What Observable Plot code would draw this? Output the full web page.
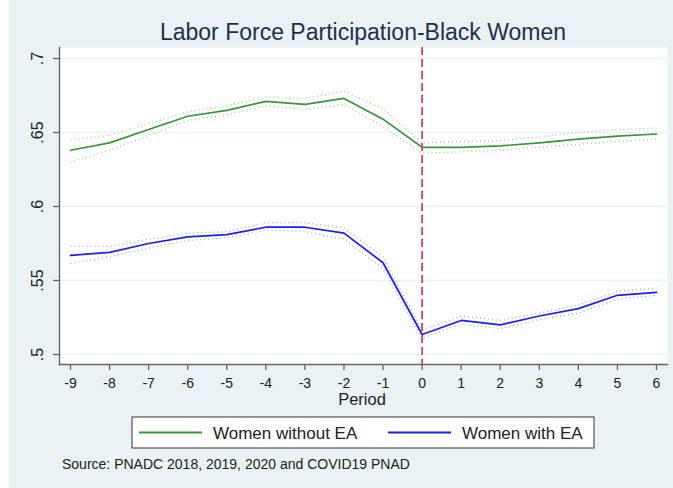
<!DOCTYPE html>
<html>
<head>
<meta charset="utf-8">
<script src="https://cdn.jsdelivr.net/npm/d3@7"></script>
<script src="https://cdn.jsdelivr.net/npm/@observablehq/plot@0.6"></script>
<style>
  html, body { margin: 0; padding: 0; background: #ffffff; }
  #chart svg { display: block; }
</style>
</head>
<body>
<div id="chart"></div>
<script>
// Labor force participation of Black women, by period relative to event
const periods = [-9, -8, -7, -6, -5, -4, -3, -2, -1, 0, 1, 2, 3, 4, 5, 6];

const withoutEA    = [0.638, 0.643, 0.652, 0.661, 0.665, 0.671, 0.669, 0.673, 0.659, 0.640, 0.640, 0.641, 0.643, 0.6455, 0.6475, 0.649];
const withoutEA_hi = [0.645, 0.648, 0.656, 0.664, 0.668, 0.674, 0.673, 0.678, 0.666, 0.643, 0.644, 0.6445, 0.647, 0.650, 0.652, 0.653];
const withoutEA_lo = [0.630, 0.638, 0.648, 0.658, 0.662, 0.668, 0.6655, 0.669, 0.654, 0.636, 0.637, 0.638, 0.640, 0.642, 0.644, 0.6455];

const withEA    = [0.567, 0.569, 0.575, 0.5795, 0.581, 0.586, 0.586, 0.582, 0.562, 0.5135, 0.523, 0.520, 0.526, 0.531, 0.540, 0.542];
const withEA_hi = [0.573, 0.573, 0.578, 0.582, 0.583, 0.589, 0.589, 0.5855, 0.566, 0.5165, 0.526, 0.523, 0.528, 0.5335, 0.5425, 0.545];
const withEA_lo = [0.5615, 0.566, 0.572, 0.577, 0.579, 0.584, 0.583, 0.578, 0.558, 0.511, 0.5205, 0.5175, 0.5235, 0.528, 0.5375, 0.540];

const yTicks = [0.5, 0.55, 0.6, 0.65, 0.7];
const yTickLabels = [".5", ".55", ".6", ".65", ".7"];

const seriesNames = ["Women without EA", "Women with EA"];
const titleText = "Labor Force Participation-Black Women";
const xTitle = "Period";
const sourceText = "Source: PNADC 2018, 2019, 2020 and COVID19 PNAD";

const green = "#3a943a", greenCI = "#94cf94";
const blue = "#1c1cff", blueCI = "#a0a0ff";
const eventColor = "#d2466f";
const axisColor = "#666666";
const bg = "#eaf2f3";

const rows = (vals) => periods.map((p, i) => ({period: p, value: vals[i]}));
const ciStyle = {strokeWidth: 1.3, strokeDasharray: "1,3", strokeLinecap: "butt"};

const W = 673, H = 488;
const chart = Plot.plot({
  width: W,
  height: H,
  marginLeft: 59,
  marginRight: 6,
  marginTop: 47,
  marginBottom: 124,
  style: {fontFamily: "'Liberation Sans', Arial, sans-serif", background: "transparent", color: "#222"},
  x: {domain: [-9, 6], range: [70, 656]},
  y: {domain: [0.5, 0.7], range: [354, 58]},
  marks: [
    Plot.frame({fill: "white", stroke: null}),
    Plot.gridY(yTicks, {stroke: bg, strokeOpacity: 1, strokeWidth: 1.6}),
    // confidence bands (dotted)
    Plot.line(rows(withoutEA_hi), {x: "period", y: "value", stroke: greenCI, ...ciStyle}),
    Plot.line(rows(withoutEA_lo), {x: "period", y: "value", stroke: greenCI, ...ciStyle}),
    Plot.line(rows(withEA_hi), {x: "period", y: "value", stroke: blueCI, ...ciStyle}),
    Plot.line(rows(withEA_lo), {x: "period", y: "value", stroke: blueCI, ...ciStyle}),
    // point estimates
    Plot.line(rows(withoutEA), {x: "period", y: "value", stroke: green, strokeWidth: 1.7}),
    Plot.line(rows(withEA), {x: "period", y: "value", stroke: blue, strokeWidth: 1.7}),
    // event marker at period 0
    Plot.ruleX([0], {stroke: eventColor, strokeWidth: 1.8, strokeDasharray: "8,4"}),
    // axes
    Plot.frame({anchor: "left", stroke: axisColor, strokeWidth: 1.4}),
    Plot.frame({anchor: "bottom", stroke: axisColor, strokeWidth: 1.4}),
    Plot.axisY(yTicks, {tickSize: 6, fill: "none", stroke: axisColor, strokeWidth: 1.3, label: null}),
    Plot.text(yTicks, {y: (d) => d, text: (d, i) => yTickLabels[i], frameAnchor: "left", dx: -22, rotate: -90,
      textAnchor: "middle", lineAnchor: "middle", fontSize: 16, fill: "#222"}),
    Plot.axisX(periods, {tickSize: 6, tickPadding: 8, stroke: axisColor, strokeWidth: 1.3, fill: "#222",
      fontSize: 14, tickFormat: (d) => String(d), label: null})
  ]
});

const svg = d3.select(chart);
// graph region background
svg.insert("rect", ":first-child")
  .attr("x", 9).attr("y", 0).attr("width", W - 9).attr("height", H)
  .attr("fill", bg);

const font = "'Liberation Sans', Arial, sans-serif";

svg.append("text")
  .attr("x", 363).attr("y", 40)
  .attr("text-anchor", "middle")
  .attr("font-family", font).attr("font-size", 23)
  .attr("fill", "#22304f")
  .text(titleText);

svg.append("text")
  .attr("x", 362).attr("y", 405)
  .attr("text-anchor", "middle")
  .attr("font-family", font).attr("font-size", 16.5)
  .attr("fill", "#222")
  .text(xTitle);

// legend
const leg = svg.append("g");
leg.append("rect")
  .attr("x", 132).attr("y", 417).attr("width", 462).attr("height", 31)
  .attr("fill", "white").attr("stroke", "#333").attr("stroke-width", 1);
const legendItems = [
  {name: seriesNames[0], color: green, x0: 139, x1: 202, tx: 213},
  {name: seriesNames[1], color: blue, x0: 388, x1: 451, tx: 462}
];
legendItems.forEach((d) => {
  leg.append("line")
    .attr("x1", d.x0).attr("x2", d.x1).attr("y1", 432.5).attr("y2", 432.5)
    .attr("stroke", d.color).attr("stroke-width", 1.8);
  leg.append("text")
    .attr("x", d.tx).attr("y", 439)
    .attr("text-anchor", "start")
    .attr("font-family", font).attr("font-size", 17)
    .attr("fill", "#222")
    .text(d.name);
});

svg.append("text")
  .attr("x", 62).attr("y", 469)
  .attr("text-anchor", "start")
  .attr("font-family", font).attr("font-size", 14)
  .attr("fill", "#222")
  .text(sourceText);

document.getElementById("chart").appendChild(chart);
</script>
</body>
</html>
